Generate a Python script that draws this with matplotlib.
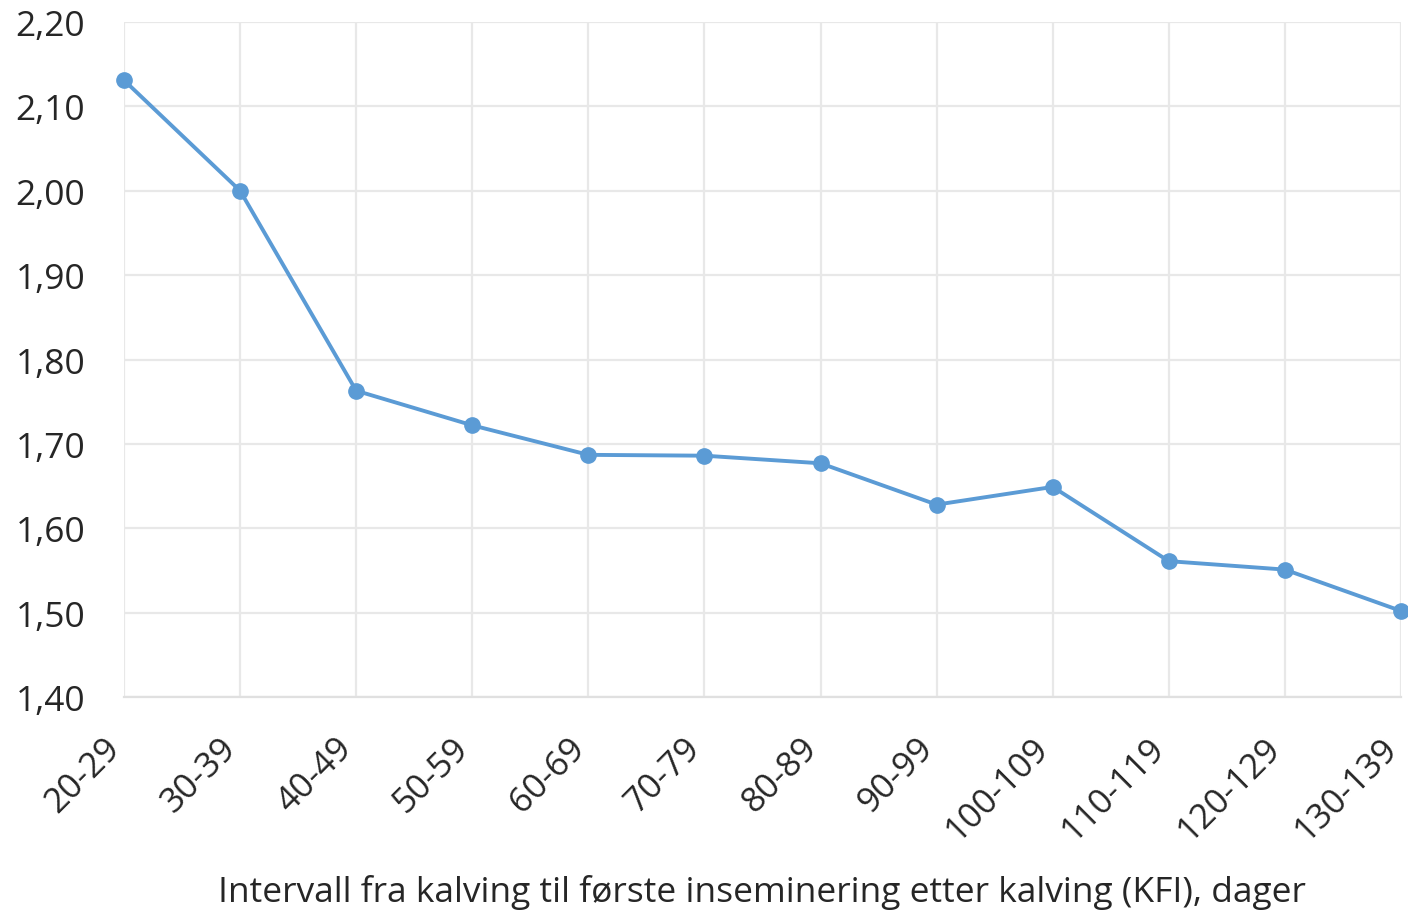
import matplotlib
matplotlib.use("Agg")
import matplotlib.pyplot as plt
from matplotlib.transforms import ScaledTranslation
import numpy as np

categories = ["20-29", "30-39", "40-49", "50-59", "60-69", "70-79",
              "80-89", "90-99", "100-109", "110-119", "120-129", "130-139"]
values = [2.131, 2.000, 1.763, 1.722, 1.687, 1.686,
          1.677, 1.628, 1.649, 1.561, 1.551, 1.502]
yticks = [1.40, 1.50, 1.60, 1.70, 1.80, 1.90, 2.00, 2.10, 2.20]
xlabel = "Intervall fra kalving til første inseminering etter kalving (KFI), dager"

plt.rcParams["font.family"] = ["Open Sans", "DejaVu Sans"]

fig = plt.figure(figsize=(14.08, 9.12), dpi=100)
ax = fig.add_axes([124 / 1408, 1 - 698 / 912, (1401 - 124) / 1408, (698 - 23) / 912])

x = np.arange(len(categories))
ax.plot(x, values, color="#5B9BD5", lw=2.8, marker="o", ms=11, clip_on=False, zorder=3)

ax.set_xlim(0, len(categories) - 1)
ax.set_ylim(1.40, 2.20)
ax.set_yticks(yticks)
ax.set_yticklabels([f"{v:.2f}".replace(".", ",") for v in yticks], fontsize=25.5, color="#262626")
ax.set_xticks(x)
ax.set_xticklabels(categories, rotation=45, ha="right", va="center", rotation_mode="anchor",
                   fontsize=25, color="#262626")
ax.tick_params(axis="both", length=0)
ax.tick_params(axis="y", pad=28)
ax.tick_params(axis="x", pad=33)

ax.grid(True, color="#e8e8e8", lw=1.6)
ax.set_axisbelow(True)
for side in ["top", "right", "left"]:
    ax.spines[side].set_visible(False)
ax.spines["bottom"].set_color("#e0e0e0")
ax.spines["bottom"].set_linewidth(1.6)

fig.text(762 / 1408, 1 - 893 / 912, xlabel, ha="center", va="center", fontsize=25.5, color="#262626")

# shift the rotated labels left so the last one stays inside the figure
fig.canvas.draw()
shift = ScaledTranslation(-9 / 100, 0, fig.dpi_scale_trans)
for tick in ax.xaxis.get_major_ticks():
    tick.label1.set_transform(tick.label1.get_transform() + shift)

fig.savefig("out.png", dpi=100)
